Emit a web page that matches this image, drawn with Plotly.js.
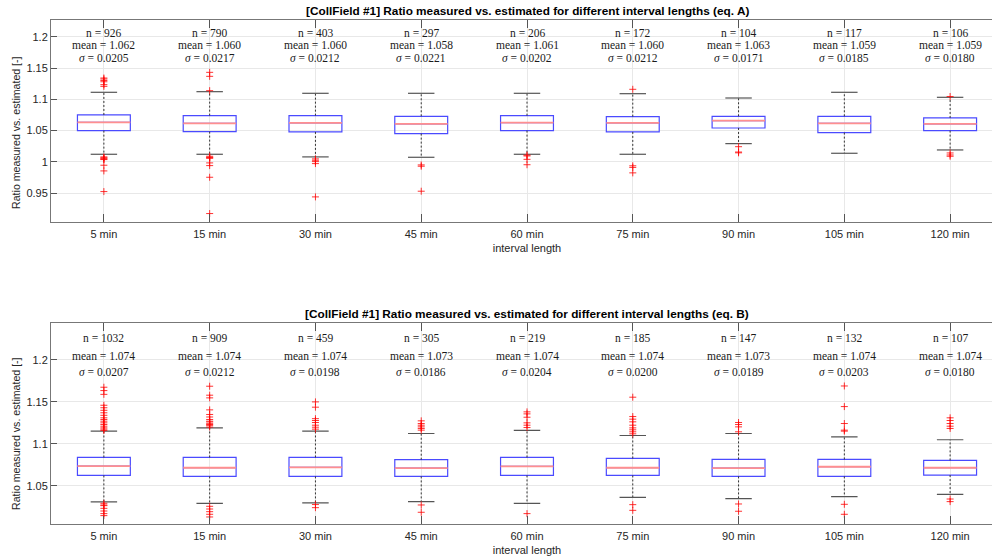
<!DOCTYPE html>
<html>
<head>
<meta charset="utf-8">
<script src="https://cdn.plot.ly/plotly-3.0.1.min.js"></script>
<style>
html, body { margin:0; padding:0; overflow:hidden; background:#fff; }
#chart { width:1004px; height:560px; }
</style>
</head>
<body>
<div id="chart"></div>
<script>
// ---------- data ----------
const categories = ['5 min','15 min','30 min','45 min','60 min','75 min','90 min','105 min','120 min'];

// eq. A (top panel)
const q1A  = [1.0500,1.0484,1.0479,1.0452,1.0500,1.0479,1.0542,1.0468,1.0500];
const medA = [1.0633,1.0617,1.0622,1.0606,1.0628,1.0622,1.0660,1.0617,1.0606];
const q3A  = [1.0750,1.0739,1.0739,1.0729,1.0739,1.0723,1.0729,1.0729,1.0702];
const loA  = [1.0122,1.0122,1.0080,1.0074,1.0122,1.0122,1.0292,1.0138,1.0191];
const hiA  = [1.1112,1.1122,1.1096,1.1096,1.1096,1.1090,1.1021,1.1112,1.1032];
const outA = [
  [1.134,1.1324,1.130,1.128,1.1234,1.1207,1.008,1.0066,1.0058,1.0045,1.0037,0.9947,0.9856,0.9526],
  [1.1431,1.1367,1.1138,1.009,1.0074,1.0066,1.0058,0.9984,0.9941,0.9755,0.9175],
  [1.0048,1.0026,1.0005,0.9973,0.9441],
  [0.9952,0.9931,0.9532],
  [1.0108,1.0095,1.0041,0.9955],
  [1.116,0.9938,0.9912,0.9825],
  [1.0243,1.0158,1.0145],
  [],
  [1.1045,1.0143,1.0111,1.0090]
];
const nA     = ['926','790','403','297','206','172','104','117','106'];
const meanA  = ['1.062','1.060','1.060','1.058','1.061','1.060','1.063','1.059','1.059'];
const sigmaA = ['0.0205','0.0217','0.0212','0.0221','0.0202','0.0212','0.0171','0.0185','0.0180'];

// eq. B (bottom panel)
const q1B  = [1.0623,1.0611,1.0611,1.0611,1.0623,1.0623,1.0611,1.0611,1.0627];
const medB = [1.0734,1.0714,1.0718,1.0710,1.0730,1.0714,1.0710,1.0726,1.0714];
const q3B  = [1.0837,1.0837,1.0837,1.0810,1.0837,1.0825,1.0814,1.0814,1.0802];
const loB  = [1.0306,1.0290,1.0294,1.0310,1.0290,1.0361,1.0345,1.0369,1.0397];
const hiB  = [1.1151,1.1190,1.1151,1.1123,1.1159,1.1099,1.1123,1.1083,1.1048];
const outB = [
  [1.1675,1.1635,1.159,1.146,1.143,1.140,1.137,1.134,1.131,1.129,1.127,1.125,1.123,1.121,1.119,1.1175,1.116,1.029,1.027,1.0262,1.023,1.0198,1.0167,1.0143],
  [1.1687,1.158,1.1548,1.1405,1.135,1.132,1.129,1.127,1.126,1.124,1.123,1.122,1.120,1.0254,1.0222,1.019,1.0159,1.0127],
  [1.150,1.1437,1.130,1.1278,1.1254,1.1222,1.1198,1.1175,1.0275,1.0238],
  [1.1274,1.1242,1.1222,1.1202,1.1183,1.1163,1.027,1.0183],
  [1.1381,1.1357,1.1317,1.125,1.1222,1.1194,1.0167],
  [1.1556,1.1325,1.1294,1.1262,1.1222,1.119,1.1167,1.1143,1.1119,1.0274,1.0206],
  [1.1254,1.123,1.1202,1.1143,1.0282,1.0195],
  [1.169,1.1444,1.1242,1.1163,1.1151,1.0278,1.0159],
  [1.131,1.1278,1.1242,1.121,1.1183,1.0341,1.031]
];
const nB     = ['1032','909','459','305','219','185','147','132','107'];
const meanB  = ['1.074','1.074','1.074','1.073','1.074','1.074','1.073','1.074','1.074'];
const sigmaB = ['0.0207','0.0212','0.0198','0.0186','0.0204','0.0200','0.0189','0.0203','0.0180'];

const yTicksA = [0.95,1,1.05,1.1,1.15,1.2];
const yTickTextA = ['0.95','1','1.05','1.1','1.15','1.2'];
const yTicksB = [1.05,1.1,1.15,1.2];
const yTickTextB = ['1.05','1.1','1.15','1.2'];

// ---------- styling / layout constants ----------
const positions = categories.map((_, i) => i);
const HALF_BOX = 0.25, HALF_CAP = 0.125;
const SANS = 'Liberation Sans, Arial, sans-serif';
const SERIF = 'Liberation Serif, Times New Roman, serif';
const AXC = '#262626';

const traces = [];
const annotations = [];

function panel(xa, ya, q1, med, q3, lo, hi, out, ns, means, sigmas, statY) {
  const wx = [], wy = [];
  const cx = [], cy = [];
  const mx = [], my = [];
  positions.forEach((p, i) => {
    wx.push(p, p, null, p, p, null);
    wy.push(q3[i], hi[i], null, q1[i], lo[i], null);
    cx.push(p - HALF_CAP, p + HALF_CAP, null, p - HALF_CAP, p + HALF_CAP, null);
    cy.push(hi[i], hi[i], null, lo[i], lo[i], null);
    mx.push(p - HALF_BOX, p + HALF_BOX, null);
    my.push(med[i], med[i], null);
  });
  traces.push({type:'scatter', mode:'lines', x:wx, y:wy, xaxis:xa, yaxis:ya,
    line:{color:'#333', width:1, dash:'2px,2px'}, hoverinfo:'skip', showlegend:false});
  traces.push({type:'scatter', mode:'lines', x:cx, y:cy, xaxis:xa, yaxis:ya,
    line:{color:'#555', width:1.2}, hoverinfo:'skip', showlegend:false});
  traces.push({type:'box', x:positions, q1:q1, median:med, q3:q3, lowerfence:q1, upperfence:q3,
    width:0.5, whiskerwidth:0, xaxis:xa, yaxis:ya, line:{color:'#4a4aff', width:1.2},
    fillcolor:'rgba(0,0,0,0)', hoverinfo:'skip', showlegend:false, boxpoints:false});
  traces.push({type:'scatter', mode:'lines', x:mx, y:my, xaxis:xa, yaxis:ya,
    line:{color:'#ff8f8f', width:1.8}, hoverinfo:'skip', showlegend:false});
  const ox = [], oy = [];
  out.forEach((arr, i) => arr.forEach(v => { ox.push(positions[i]); oy.push(v); }));
  traces.push({type:'scatter', mode:'markers', x:ox, y:oy, xaxis:xa, yaxis:ya,
    marker:{symbol:'cross-thin', size:5, line:{color:'rgba(255,0,0,0.8)', width:1}},
    hoverinfo:'skip', showlegend:false});
  positions.forEach((p, i) => {
    const txt = ['n = ' + ns[i], 'mean = ' + means[i], '<i>σ</i> = ' + sigmas[i]];
    txt.forEach((t, k) => annotations.push({x:p, y:statY[k], xref:xa, yref:ya, text:t,
      showarrow:false, font:{family:SERIF, size:11.5, color:'#1a1a1a'}, xanchor:'center', yanchor:'middle'}));
  });
}

panel('x', 'y', q1A, medA, q3A, loA, hiA, outA, nA, meanA, sigmaA, [1.2055, 1.1867, 1.1665]);
panel('x2', 'y2', q1B, medB, q3B, loB, hiB, outB, nB, meanB, sigmaB, [1.2262, 1.2052, 1.1851]);

// titles
annotations.push({xref:'paper', yref:'paper', x:0.5, y:1, yanchor:'bottom', showarrow:false,
  text:'<b>[CollField #1] Ratio measured vs. estimated for different interval lengths (eq. A)</b>',
  font:{family:SANS, size:11.8, color:'#000'}});
annotations.push({xref:'paper', yref:'paper', x:0.5, y:0.3994, yanchor:'bottom', showarrow:false,
  text:'<b>[CollField #1] Ratio measured vs. estimated for different interval lengths (eq. B)</b>',
  font:{family:SANS, size:11.8, color:'#000'}});

// y-axis titles (placed like the reference's ylabels)
const YLABEL = 'Ratio measured vs. estimated [-]';
[0.7778, 0.1806].forEach(yy => annotations.push({xref:'paper', yref:'paper', x:-0.0368, y:yy,
  xanchor:'center', yanchor:'middle', textangle:-90, showarrow:false, text:YLABEL,
  font:{family:SANS, size:10.6, color:AXC}}));

function xAxis(anchor) {
  return {anchor:anchor, domain:[0,1], range:[-0.5, 8.5], tickvals:positions, ticktext:categories,
    ticks:'inside', ticklen:8, tickcolor:'#555', showline:true, linecolor:'#777', linewidth:1, mirror:'ticks',
    showgrid:true, gridcolor:'#e8e8e8', zeroline:false, tickfont:{family:SANS, size:11, color:AXC},
    ticklabelstandoff:2,
    title:{text:'interval length', font:{family:SANS, size:11, color:AXC}, standoff:5}};
}
function yAxis(anchor, dom, range, tv, tt) {
  return {anchor:anchor, domain:dom, range:range, tickvals:tv, ticktext:tt,
    ticks:'inside', ticklen:6, tickcolor:'#555', showline:true, linecolor:'#777', linewidth:1, mirror:'ticks',
    showgrid:true, gridcolor:'#e8e8e8', zeroline:false, tickfont:{family:SANS, size:11, color:AXC}};
}

const layout = {
  width:1004, height:560,
  margin:{l:51, r:1, t:20, b:36},
  paper_bgcolor:'#fff', plot_bgcolor:'#fff',
  showlegend:false,
  xaxis: xAxis('y'),
  yaxis: yAxis('x', [0.5992, 1], [0.904, 1.2267], yTicksA, yTickTextA),
  xaxis2: xAxis('y2'),
  yaxis2: yAxis('x2', [0, 0.3994], [1.0043, 1.2445], yTicksB, yTickTextB),
  annotations: annotations
};

Plotly.newPlot('chart', traces, layout, {displayModeBar:false, staticPlot:true});
</script>
</body>
</html>
